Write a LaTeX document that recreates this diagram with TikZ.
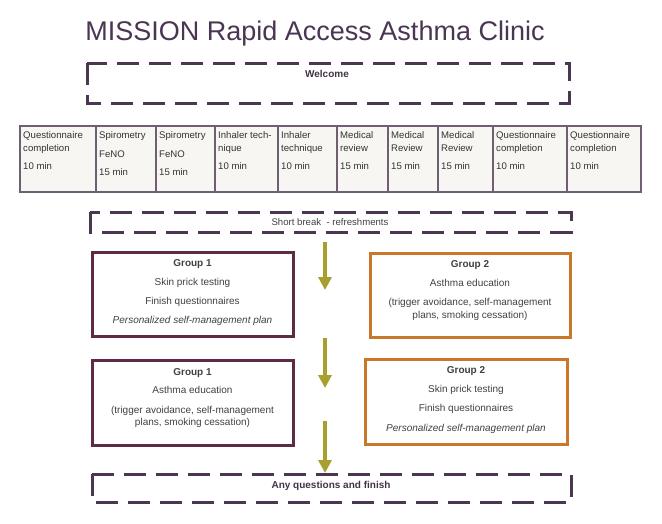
\documentclass[tikz,border=0pt]{standalone}
\usepackage{fontspec}
\setmainfont{Liberation Sans}
\usetikzlibrary{arrows.meta,positioning}
\definecolor{titlec}{HTML}{4A3552}
\definecolor{dashc}{HTML}{4B3750}
\definecolor{cellb}{HTML}{6E6072}
\definecolor{cellf}{HTML}{F8F6F3}
\definecolor{gonec}{HTML}{5E2B45}
\definecolor{gtwoc}{HTML}{C8782A}
\definecolor{arrc}{HTML}{A8A02E}
\begin{document}
\begin{tikzpicture}[x=1pt,y=-1pt,
  dashbox/.style={draw=dashc,line width=3pt,dash pattern=on 22pt off 10pt},
  cellbox/.style={draw=cellb,fill=cellf,line width=1.2pt},
  celltxt/.style={anchor=base west,inner sep=0pt,font=\fontsize{9.6}{11}\selectfont,text=black!80},
  gtxt/.style={anchor=base,inner sep=0pt,font=\fontsize{10}{12}\selectfont,text=black!75},
  gonebox/.style={draw=gonec,line width=3pt},
  gtwobox/.style={draw=gtwoc,line width=3pt},
  flow/.style={draw=arrc,line width=4pt,-{Triangle[width=13pt,length=13pt]}}
]
\useasboundingbox (0,0) rectangle (662,523);
% title
\node[inner sep=0pt,anchor=base,text=titlec,font=\fontsize{27}{30}\selectfont] (title) at (315,40) {MISSION Rapid Access Asthma Clinic};
% welcome
\draw[dashbox] (87,63) rectangle (569,103);
\node[gtxt,font=\fontsize{10}{12}\selectfont\bfseries,text=dashc!90!black] (welcome) at (327,77) {Welcome};
% table cells
\foreach \a/\b/\n in {20/96/1,96/156/2,156/215/3,215/278/4,278/337/5,337/388/6,388/438/7,438/493/8,493/567/9,567/641/10}{
  \draw[cellbox] (\a,126) rectangle (\b,192);
  \coordinate (c\n) at (\a+3,0);
}
\foreach \n/\l/\m/\t in {1/Questionnaire/completion/10 min,4/Inhaler tech-/nique/10 min,5/Inhaler/technique/10 min,6/Medical/review/15 min,7/Medical/Review/15 min,8/Medical/Review/15 min,9/Questionnaire/completion/10 min,10/Questionnaire/completion/10 min}{
  \node[celltxt] (t\n a) at ([yshift=-138pt]c\n) {\l};
  \node[celltxt] (t\n b) at ([yshift=-151pt]c\n) {\m};
  \node[celltxt] (t\n c) at ([yshift=-169pt]c\n) {\t};
}
\foreach \n in {2,3}{
  \node[celltxt] (t\n a) at ([yshift=-138pt]c\n) {Spirometry};
  \node[celltxt] (t\n b) at ([yshift=-157pt]c\n) {FeNO};
  \node[celltxt] (t\n c) at ([yshift=-175pt]c\n) {15 min};
}
% short break
\draw[dashbox] (90,212) rectangle (571,232);
\node[gtxt,font=\fontsize{9.6}{11}\selectfont] (brk) at (330,225) {Short break\ \ - refreshments};
% group row 1
\draw[gonebox] (92,252) rectangle (293,336);
\node[gtxt,font=\fontsize{10}{12}\selectfont\bfseries] (g1h) at (192.5,266) {Group 1};
\node[gtxt] (g1a) at (192.5,285) {Skin prick testing};
\node[gtxt] (g1b) at (192.5,304) {Finish questionnaires};
\node[gtxt,font=\fontsize{10}{12}\selectfont\itshape] (g1c) at (192.5,323) {Personalized self-management plan};
\draw[gtwobox] (370,253) rectangle (570,337);
\node[gtxt,font=\fontsize{10}{12}\selectfont\bfseries] (g2h) at (470,267) {Group 2};
\node[gtxt] (g2a) at (470,286) {Asthma education};
\node[gtxt] (g2b) at (470,305) {(trigger avoidance, self-management};
\node[gtxt] (g2c) at (470,318) {plans, smoking cessation)};
% group row 2
\draw[gonebox] (92,360) rectangle (293,445);
\node[gtxt,font=\fontsize{10}{12}\selectfont\bfseries] (h1h) at (192.5,375) {Group 1};
\node[gtxt] (h1a) at (192.5,393) {Asthma education};
\node[gtxt] (h1b) at (192.5,413) {(trigger avoidance, self-management};
\node[gtxt] (h1c) at (192.5,425) {plans, smoking cessation)};
\draw[gtwobox] (365,359) rectangle (567,444);
\node[gtxt,font=\fontsize{10}{12}\selectfont\bfseries] (h2h) at (466,373) {Group 2};
\node[gtxt] (h2a) at (466,392) {Skin prick testing};
\node[gtxt] (h2b) at (466,411) {Finish questionnaires};
\node[gtxt,font=\fontsize{10}{12}\selectfont\itshape] (h2c) at (466,431) {Personalized self-management plan};
% final
\draw[dashbox] (92,474) rectangle (571,502);
\node[gtxt,font=\fontsize{10}{12}\selectfont\bfseries,text=dashc!90!black] (fin) at (331,488) {Any questions and finish};
% arrows
\coordinate (a1s) at (325,242); \coordinate (a1e) at (325,290);
\coordinate (a2s) at (325,338); \coordinate (a2e) at (325,388);
\coordinate (a3s) at (325,421); \coordinate (a3e) at (325,473);
\draw[flow] (a1s) -- (a1e);
\draw[flow] (a2s) -- (a2e);
\draw[flow] (a3s) -- (a3e);
\end{tikzpicture}
\end{document}
